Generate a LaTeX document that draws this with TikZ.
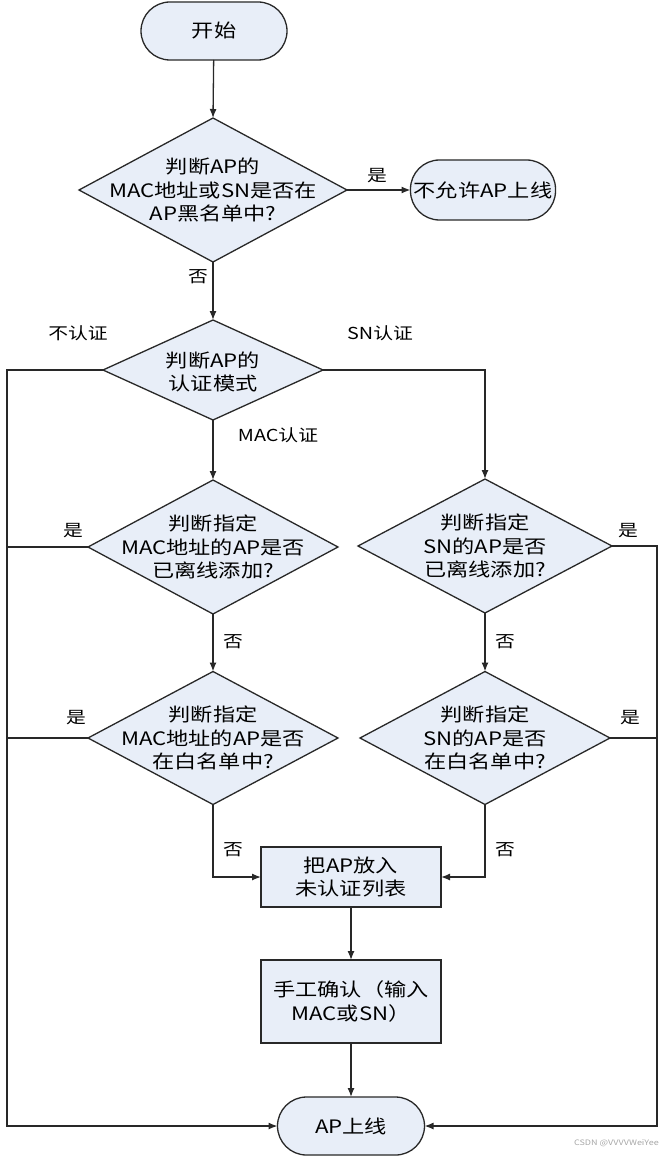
\documentclass[tikz,border=0pt]{standalone}
\usepackage{fontspec}
\setmainfont{Noto Sans CJK SC}[FakeStretch=1.2]
\usetikzlibrary{shapes.geometric,arrows.meta}
\definecolor{boxfill}{RGB}{232,238,248}
\definecolor{edge}{RGB}{40,40,40}
\tikzset{
  base/.style={draw=edge,line width=1.3pt,fill=boxfill,inner sep=0pt,outer sep=0pt},
  pill/.style={base,rectangle,rounded corners=29pt,minimum width=#1,minimum height=58pt},
  dec/.style 2 args={base,diamond,minimum width=#1,minimum height=#2},
  proc/.style 2 args={base,rectangle,minimum width=#1,minimum height=#2},
  txt/.style={font=\fontsize{18.5pt}{23.5pt}\selectfont,align=center,text=black},
  lab/.style={font=\fontsize{16.5pt}{18pt}\selectfont,text=black,inner sep=0pt},
  conn/.style={draw=edge,line width=1.3pt},
  arr/.style={conn,-{Latex[length=9pt,width=7pt]}}
}
\begin{document}
\begin{tikzpicture}[x=1pt,y=-1pt]
\useasboundingbox (0,0) rectangle (661,1158);
% nodes
\node[pill=146pt] (s) at (214,31) {};
\node[txt] at (s) {开始};
\node[dec={268pt}{144pt}] (d1) at (213,190) {};
\node[txt] at (d1) {判断AP的\\MAC地址或SN是否在\\AP黑名单中?};
\node[pill=145pt,minimum height=60pt] (p2) at (483,190) {};
\node[txt] at (p2) {不允许AP上线};
\node[dec={220pt}{100pt}] (d2) at (213,370) {};
\node[txt] at ([yshift=-2pt]d2) {判断AP的\\认证模式};
\node[dec={250pt}{134pt}] (d3) at (213,547) {};
\node[txt] at (d3) {判断指定\\MAC地址的AP是否\\已离线添加?};
\node[dec={254pt}{134pt}] (d4) at (485,546) {};
\node[txt] at (d4) {判断指定\\SN的AP是否\\已离线添加?};
\node[dec={250pt}{133pt}] (d5) at (213,738) {};
\node[txt] at (d5) {判断指定\\MAC地址的AP是否\\在白名单中?};
\node[dec={250pt}{133pt}] (d6) at (485,738) {};
\node[txt] at (d6) {判断指定\\SN的AP是否\\在白名单中?};
\node[proc={180pt}{60pt}] (b1) at (351,877) {};
\node[txt] at (b1) {把AP放入\\未认证列表};
\node[proc={180pt}{83pt}] (b2) at (351,1001.5) {};
\node[txt] at (b2) {手工确认（输入\\MAC或SN）};
\node[pill=147pt] (e) at (351,1126) {};
\node[txt] at (e) {AP上线};
% rails
\coordinate (Lx) at (7,0);
\coordinate (Rx) at (657,0);
% connectors
\draw[arr] (s) -- (d1.north);
\draw[arr] (d1.east) -- (p2.west);
\draw[arr] (d1.south) -- (d2.north);
\draw[arr] (d2.south) -- (d3.north);
\draw[arr] (d2.east) -| (d4.north);
\draw[arr] (d3.south) -- (d5.north);
\draw[arr] (d4.south) -- (d6.north);
\draw[arr] (d5.south) |- (b1.west);
\draw[arr] (d6.south) |- (b1.east);
\draw[arr] (b1.south) -- (b2.north);
\draw[arr] (b2.south) -- (e.north);
\draw[arr] (d2.west) -| (Lx |- e.west) -- (e.west);
\draw[conn] (d3.west) -- (Lx |- d3.west);
\draw[conn] (d5.west) -- (Lx |- d5.west);
\draw[arr] (d4.east) -| (Rx |- e.east) -- (e.east);
\draw[conn] (d6.east) -- (Rx |- d6.east);
% labels
\node[lab] (l1) at (377,176) {是};
\node[lab] (l2) at (198,277) {否};
\node[lab] (l3) at (78,333) {不认证};
\node[lab] (l4) at (380,333) {SN认证};
\node[lab] (l5) at (278,435) {MAC认证};
\node[lab] (l6) at (73,531) {是};
\node[lab] (l7) at (628,531) {是};
\node[lab] (l8) at (233,642) {否};
\node[lab] (l9) at (505,642) {否};
\node[lab] (l10) at (76,718) {是};
\node[lab] (l11) at (630,718) {是};
\node[lab] (l12) at (233,850) {否};
\node[lab] (l13) at (505,850) {否};
\node[font=\fontsize{7.5pt}{9pt}\selectfont,text=gray!70,inner sep=0pt,anchor=east] (wm) at (659,1143) {CSDN @VVVVWeiYee};
\end{tikzpicture}
\end{document}
